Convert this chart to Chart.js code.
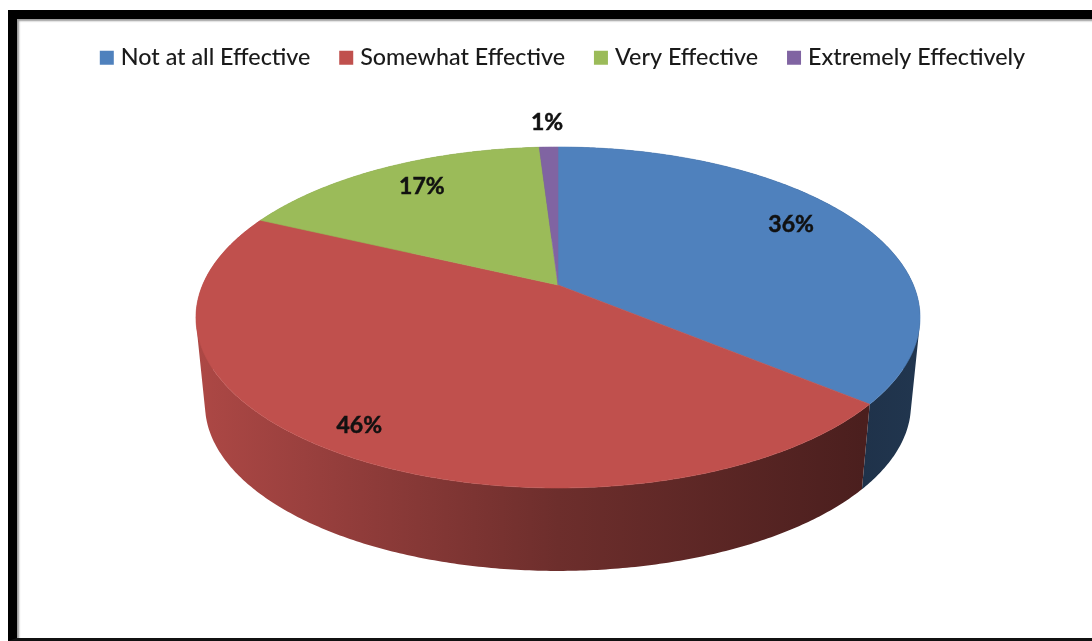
<!DOCTYPE html>
<html>
<head>
<meta charset="utf-8">
<script src="https://cdn.jsdelivr.net/npm/chart.js@4"></script>
<style>
  html, body { margin: 0; padding: 0; background: #fff; width: 1092px; height: 641px; overflow: hidden; }
  #page { position: relative; width: 1092px; height: 641px; filter: blur(0.5px); }
  #frame { position: absolute; left: 8px; top: 10px; right: -20px; bottom: 0; box-sizing: border-box;
           background: #fff; border-left: 9px solid #000; border-top: 9px solid #000; border-bottom: 3px solid #111;
           box-shadow: inset 2px 2px 2px #999; }
  canvas { position: absolute; left: 0; top: 0; }
</style>
</head>
<body>
<div id="page">
  <div id="frame"></div>
  <canvas id="c" width="1092" height="641"></canvas>
</div>
<script>
const categories = ['Not at all Effective', 'Somewhat Effective', 'Very Effective', 'Extremely Effectively'];
const percentages = [36, 46, 17, 1];
const sliceColors = ['#4f81bd', '#c0504d', '#9bbb59', '#8064a2'];

// Label placement on the disc: fraction of the radius, and a small turn in degrees from the slice middle
const labelRadius = [0.81, 0.88, 0.80, 1.215];
const labelTurn = [-4.2, 0.7, 1.5, 0];

// Perspective view of the disc
const view = { x: 558, y: 285, a: 355.4, b: 164.3, k: 0.1906, rimScale: 0.975, rimDrop: 88 };

function project(theta, r, rim) {
  const u = Math.cos(theta) * r, v = Math.sin(theta) * r;
  const w = 1 - view.k * v;
  const s = rim ? view.rimScale : 1;
  return { x: view.x + s * view.a * u / w, y: view.y + (rim ? view.rimDrop : 0) + s * view.b * v / w };
}
function shade(hex, f) {
  const n = parseInt(hex.slice(1), 16);
  return 'rgb(' + [(n >> 16) & 255, (n >> 8) & 255, n & 255].map(c => Math.round(c * f)).join(',') + ')';
}
function arcPoints(start, end, rim) {
  const steps = Math.max(2, Math.ceil((end - start) / 0.01));
  const pts = [];
  for (let i = 0; i <= steps; i++) pts.push(project(start + (end - start) * i / steps, 1, rim));
  return pts;
}
function addQuad(ctx, q) {
  let area = 0;
  q.forEach((p, i) => { const n = q[(i + 1) % 4]; area += p.x * n.y - n.x * p.y; });
  const pts = area < 0 ? q.slice().reverse() : q;
  pts.forEach((p, i) => i ? ctx.lineTo(p.x, p.y) : ctx.moveTo(p.x, p.y));
  ctx.closePath();
}

const perspectivePie = {
  id: 'perspectivePie',
  beforeDatasetDraw(chart, args) {
    const ctx = chart.ctx;
    const arcs = args.meta.data;
    ctx.save();
    // outer wall: thin quads, all wound the same way, filled as one path
    arcs.forEach((arc) => {
      const base = arc.options.backgroundColor;
      const g = ctx.createLinearGradient(196, 0, 921, 0);
      g.addColorStop(0, shade(base, 0.90));
      g.addColorStop(0.15, shade(base, 0.80));
      g.addColorStop(0.5, shade(base, 0.57));
      g.addColorStop(0.92, shade(base, 0.39));
      g.addColorStop(1, shade(base, 0.42));
      ctx.fillStyle = g;
      const top = arcPoints(arc.startAngle, arc.endAngle, false);
      const rim = arcPoints(arc.startAngle, arc.endAngle, true);
      ctx.beginPath();
      for (let i = 0; i < top.length - 1; i++) {
        addQuad(ctx, [top[i], top[i + 1], rim[i + 1], rim[i]]);
      }
      ctx.fill();
    });
    // top face
    arcs.forEach((arc) => {
      ctx.beginPath();
      ctx.moveTo(view.x, view.y);
      arcPoints(arc.startAngle, arc.endAngle, false).forEach(p => ctx.lineTo(p.x, p.y));
      ctx.closePath();
      ctx.fillStyle = arc.options.backgroundColor;
      ctx.strokeStyle = arc.options.backgroundColor;
      ctx.lineWidth = 0.6;
      ctx.fill();
      ctx.stroke();
    });
    // percentage labels
    ctx.fillStyle = '#111';
    ctx.strokeStyle = '#111';
    ctx.lineWidth = 0.5;
    ctx.font = 'bold 23px Lato';
    ctx.textAlign = 'center';
    ctx.textBaseline = 'middle';
    arcs.forEach((arc, i) => {
      const mid = (arc.startAngle + arc.endAngle) / 2 + labelTurn[i] * Math.PI / 180;
      const p = project(mid, labelRadius[i], false);
      const text = chart.data.datasets[0].data[i] + '%';
      ctx.fillText(text, p.x, p.y);
      ctx.strokeText(text, p.x, p.y);
    });
    ctx.restore();
    return false;
  }
};

new Chart(document.getElementById('c'), {
  type: 'pie',
  data: {
    labels: categories,
    datasets: [{ data: percentages, backgroundColor: sliceColors, borderWidth: 0 }]
  },
  options: {
    responsive: false,
    animation: false,
    layout: { padding: { top: 12.5, left: 37.6 } },
    plugins: {
      tooltip: { enabled: false },
      legend: {
        position: 'top',
        labels: {
          usePointStyle: true,
          pointStyle: 'rect',
          boxWidth: 4.7,
          boxHeight: 14,
          padding: 33.5,
          color: '#1a1a1a',
          font: { family: 'Lato', size: 23.3, weight: '500' }
        }
      }
    }
  },
  plugins: [perspectivePie]
});
</script>
</body>
</html>
